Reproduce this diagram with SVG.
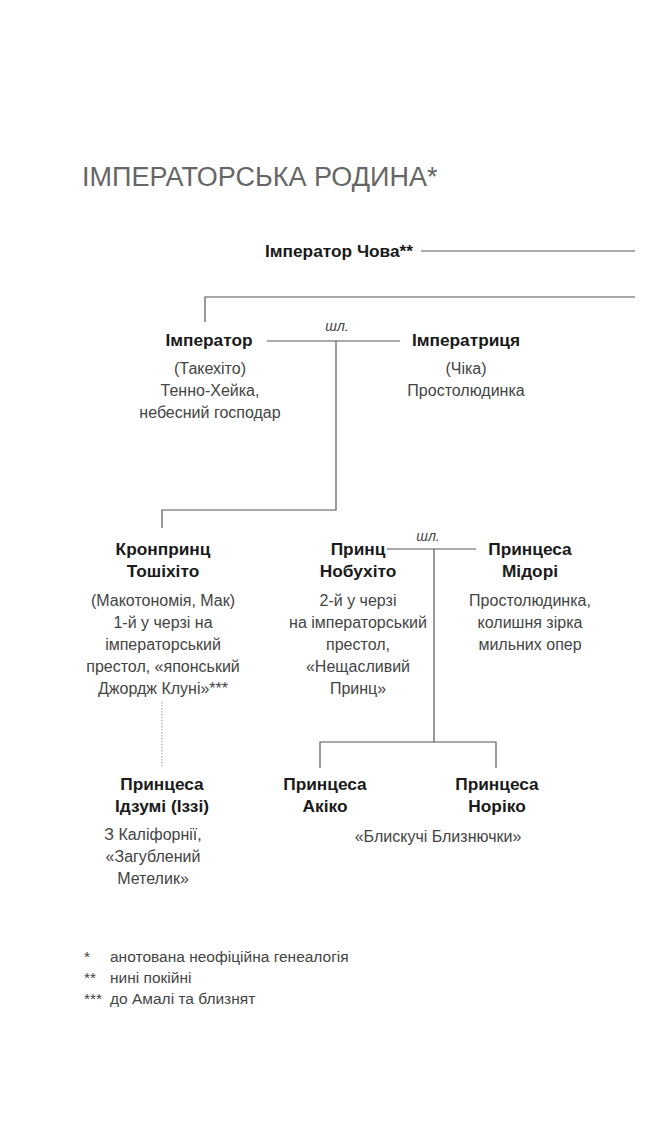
<svg xmlns="http://www.w3.org/2000/svg" width="645" height="1129" viewBox="0 0 645 1129">
<style>
text{font-family:"Liberation Sans",Arial,sans-serif}
.t{font-size:27px;fill:#666}
.n{font-size:17.3px;font-weight:bold;fill:#1a1a1a;text-anchor:middle}
.d{font-size:16px;fill:#444;text-anchor:middle}
.m{font-size:14px;font-style:italic;fill:#444;text-anchor:middle}
.f{font-size:15.5px;fill:#444}
.l{stroke:#555;stroke-width:1.2;fill:none}
</style>
<rect width="645" height="1129" fill="#fff"/>
<text class="t" x="82" y="186">ІМПЕРАТОРСЬКА РОДИНА*</text>
<g id="connectors">
<path class="l" d="M421 251H635M205 322V297H635M267 341H400M336 341V510H162V528M387 549H476M434 549V742M320 768V742H496V768"/>
<path d="M162 702V768" stroke="#999" stroke-width="1" stroke-dasharray="1.5 1.5"/>
<text class="m" x="337" y="331">шл.</text>
<text class="m" x="428" y="541">шл.</text>
</g>
<g id="chowa"><text class="n" x="339" y="257">Імператор Чова**</text></g>
<g id="emperor"><text class="n" x="209" y="346">Імператор</text>
<text class="d" x="210" y="374">(Такехіто)</text><text class="d" x="210" y="396">Тенно-Хейка,</text><text class="d" x="210" y="418">небесний господар</text></g>
<g id="empress"><text class="n" x="466" y="346">Імператриця</text>
<text class="d" x="466" y="374">(Чіка)</text><text class="d" x="466" y="396">Простолюдинка</text></g>
<g id="toshihito"><text class="n" x="163" y="555">Кронпринц</text><text class="n" x="163" y="577">Тошіхіто</text>
<text class="d" x="163" y="606">(Макотономія, Мак)</text><text class="d" x="163" y="628">1-й у черзі на</text><text class="d" x="163" y="650">імператорський</text><text class="d" x="163" y="672">престол, «японський</text><text class="d" x="163" y="694">Джордж Клуні»***</text></g>
<g id="nobuhito"><text class="n" x="358" y="555">Принц</text><text class="n" x="358" y="577">Нобухіто</text>
<text class="d" x="358" y="606">2-й у черзі</text><text class="d" x="358" y="628">на імператорський</text><text class="d" x="358" y="650">престол,</text><text class="d" x="358" y="672">«Нещасливий</text><text class="d" x="358" y="694">Принц»</text></g>
<g id="midori"><text class="n" x="530" y="555">Принцеса</text><text class="n" x="530" y="577">Мідорі</text>
<text class="d" x="530" y="606">Простолюдинка,</text><text class="d" x="530" y="628">колишня зірка</text><text class="d" x="530" y="650">мильних опер</text></g>
<g id="izumi"><text class="n" x="162" y="790">Принцеса</text><text class="n" x="162" y="812">Ідзумі (Іззі)</text>
<text class="d" x="153" y="840">З Каліфорнії,</text><text class="d" x="153" y="862">«Загублений</text><text class="d" x="153" y="884">Метелик»</text></g>
<g id="akiko"><text class="n" x="325" y="790">Принцеса</text><text class="n" x="325" y="812">Акіко</text></g>
<g id="noriko"><text class="n" x="497" y="790">Принцеса</text><text class="n" x="497" y="812">Норіко</text></g>
<g id="twins"><text class="d" x="438" y="842">«Блискучі Близнючки»</text></g>
<g id="notes">
<text class="f" x="84" y="962">*</text><text class="f" x="110" y="962">анотована неофіційна генеалогія</text>
<text class="f" x="84" y="983">**</text><text class="f" x="110" y="983">нині покійні</text>
<text class="f" x="84" y="1004">***</text><text class="f" x="110" y="1004">до Амалі та близнят</text>
</g>
</svg>
